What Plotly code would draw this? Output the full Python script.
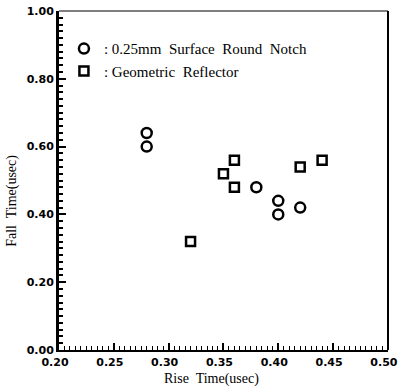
import plotly.graph_objects as go

# Data
notch_rise = [0.28, 0.28, 0.38, 0.40, 0.40, 0.42]
notch_fall = [0.64, 0.60, 0.48, 0.44, 0.40, 0.42]
refl_rise = [0.32, 0.35, 0.36, 0.36, 0.42, 0.44]
refl_fall = [0.32, 0.52, 0.56, 0.48, 0.54, 0.56]

x_ticks = [0.20, 0.25, 0.30, 0.35, 0.40, 0.45, 0.50]
y_ticks = [0.00, 0.20, 0.40, 0.60, 0.80, 1.00]

legend_notch = ": 0.25mm  Surface  Round  Notch"
legend_refl = ": Geometric  Reflector"

serif = "Liberation Serif, Times New Roman, serif"
boldfont = dict(family="DejaVu Sans, Arial Black, sans-serif", size=11, color="black", weight="bold")

fig = go.Figure()
fig.add_trace(go.Scatter(
    x=notch_rise, y=notch_fall, mode="markers", name=legend_notch,
    marker=dict(symbol="circle-open", size=10, color="black", line=dict(width=2.5, color="black")),
))
fig.add_trace(go.Scatter(
    x=refl_rise, y=refl_fall, mode="markers", name=legend_refl,
    marker=dict(symbol="square-open", size=9, color="black", line=dict(width=2.5, color="black")),
))

fig.update_layout(
    width=399, height=386,
    margin=dict(l=59, r=11, t=11, b=36, autoexpand=False),
    paper_bgcolor="white", plot_bgcolor="white",
    showlegend=True,
    legend=dict(x=0.015, y=0.937, xanchor="left", yanchor="top",
                font=dict(family=serif, size=15, color="black"),
                bgcolor="rgba(0,0,0,0)", itemwidth=30, tracegroupgap=0),
    xaxis=dict(
        range=[0.20, 0.5001], tickvals=x_ticks, ticktext=[f"{v:.2f}" for v in x_ticks],
        showgrid=False, zeroline=False, automargin=False,
        ticklabeloverflow="allow", ticklabelshift=-4, ticklabelstandoff=1,
        showline=True, linecolor="black", linewidth=2,
        ticks="inside", ticklen=7, tickwidth=2, tickcolor="black",
        minor=dict(dtick=0.005, ticks="inside", ticklen=4, tickwidth=1, tickcolor="black", showgrid=False),
        tickfont=boldfont,
    ),
    yaxis=dict(
        range=[0.0, 1.0], tickvals=y_ticks, ticktext=[f"{v:.2f}" for v in y_ticks],
        showgrid=False, zeroline=False, automargin=False, ticklabeloverflow="allow",
        showline=True, linecolor="black", linewidth=3,
        ticks="inside", ticklen=7, tickwidth=2, tickcolor="black",
        minor=dict(dtick=0.02, ticks="inside", ticklen=4, tickwidth=1.5, tickcolor="black", showgrid=False),
        tickfont=boldfont,
    ),
    shapes=[
        dict(type="line", xref="paper", yref="paper", x0=0, x1=1, y0=1, y1=1,
             line=dict(color="black", width=1.2)),
        dict(type="line", xref="paper", yref="paper", x0=1, x1=1, y0=0, y1=1,
             line=dict(color="black", width=2)),
    ],
    annotations=[
        dict(text="Rise  Time(usec)", xref="paper", yref="paper", x=0.465, y=0, yshift=-29,
             xanchor="center", yanchor="middle", showarrow=False,
             font=dict(family=serif, size=14, color="#000000")),
        dict(text="Fall  Time(usec)", xref="paper", yref="paper", x=0, xshift=-47, y=0.44,
             xanchor="center", yanchor="middle", textangle=-90, showarrow=False,
             font=dict(family=serif, size=14, color="#000000")),
    ],
)

fig.write_html("out.html", config={"displayModeBar": False},
               post_script="document.body.style.margin='0';document.body.style.overflow='hidden';")
